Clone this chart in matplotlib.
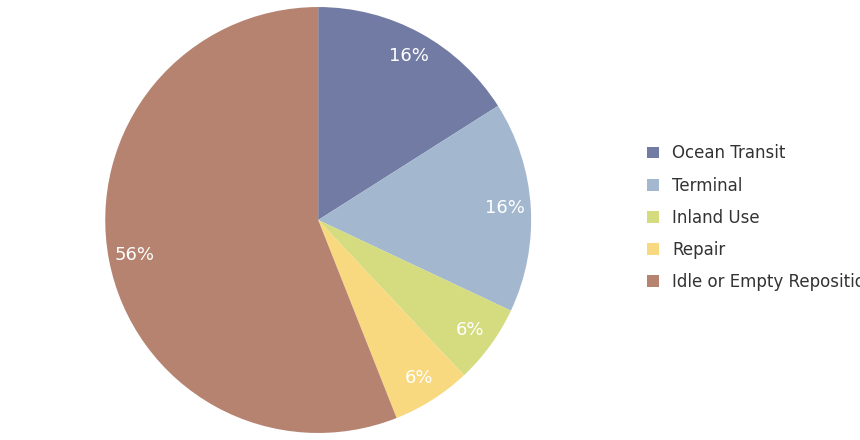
import matplotlib.pyplot as plt

plt.rcParams['font.family'] = ['Liberation Sans Narrow', 'DejaVu Sans']

labels = ['Ocean Transit', 'Terminal', 'Inland Use', 'Repair', 'Idle or Empty Repositioning']
values = [16, 16, 6, 6, 56]
colors = ['#717ba3', '#a3b8cf', '#d4dc7f', '#f8d97f', '#b5836f']

fig = plt.figure(figsize=(8.6, 4.4), dpi=100)
ax = fig.add_axes([0.122, 0.016, 0.496, 0.968])
wedges, texts, autotexts = ax.pie(values, colors=colors, startangle=90, counterclock=False,
                                  autopct='%d%%', pctdistance=0.88,
                                  textprops=dict(color='white', fontsize=13))
ax.set_xlim(-1, 1)
ax.set_ylim(-1, 1)
ax.set_aspect('equal')

fig.legend(wedges, labels, loc='center left', bbox_to_anchor=(0.735, 0.505),
           frameon=False, fontsize=12, handlelength=0.7, handleheight=0.7,
           labelspacing=0.85, labelcolor='#333333')

fig.savefig('out.png', dpi=100)
